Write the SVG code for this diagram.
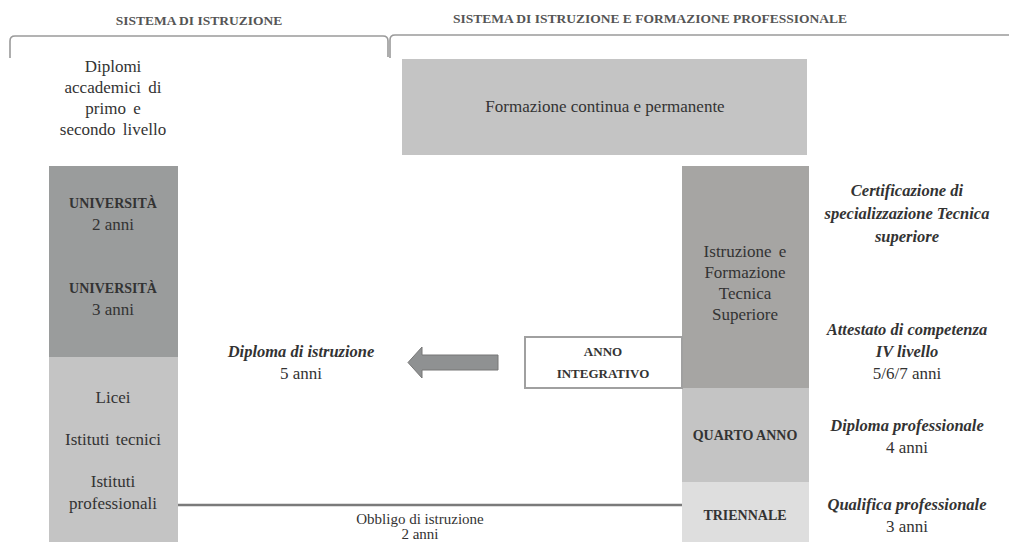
<svg xmlns="http://www.w3.org/2000/svg" width="1009" height="542" viewBox="0 0 1009 542" font-family="'Liberation Serif', 'DejaVu Serif', serif">
<style>
text{font-family:'Liberation Serif','DejaVu Serif',serif;fill:#333;}
.hdr{font-size:13.5px;font-weight:bold;fill:#555;text-anchor:middle;}
.reg{font-size:17px;text-anchor:middle;}
.bld{font-size:14px;font-weight:bold;text-anchor:middle;}
.bi{font-size:16.5px;font-weight:bold;font-style:italic;text-anchor:middle;}
.br{fill:none;stroke:#9a9a9a;stroke-width:1.6;}
</style>
<rect width="1009" height="542" fill="#fff"/>
<g id="headers">
<text class="hdr" x="199" y="25">SISTEMA DI ISTRUZIONE</text>
<text class="hdr" x="650" y="23">SISTEMA DI ISTRUZIONE E FORMAZIONE PROFESSIONALE</text>
<path class="br" d="M10,58 V41 Q10,36 15,36 H383 Q388,36 388,41 V57"/>
<path class="br" d="M390,58 V40 Q390,35 395,35 H1010"/>
</g>
<g id="diplomi-accademici">
<text class="reg" x="113" y="72">Diplomi</text>
<text class="reg" x="113" y="93" word-spacing="3">accademici di</text>
<text class="reg" x="113" y="114" word-spacing="3">primo e</text>
<text class="reg" x="113" y="135" word-spacing="3">secondo livello</text>
</g>
<g id="formazione-continua">
<rect x="402" y="59" width="405" height="96" fill="#c4c4c4"/>
<text class="reg" x="605" y="112">Formazione continua e permanente</text>
</g>
<g id="universita">
<rect x="49" y="166" width="129" height="191" fill="#9a9c9c"/>
<text class="bld" x="113" y="208">UNIVERSITÀ</text>
<text class="reg" x="113" y="230">2 anni</text>
<text class="bld" x="113" y="293">UNIVERSITÀ</text>
<text class="reg" x="113" y="315">3 anni</text>
</g>
<g id="scuole-secondarie">
<rect x="49" y="357" width="129" height="185" fill="#c4c4c4"/>
<text class="reg" x="113" y="403">Licei</text>
<text class="reg" x="113" y="445" word-spacing="2">Istituti tecnici</text>
<text class="reg" x="113" y="487">Istituti</text>
<text class="reg" x="113" y="509">professionali</text>
</g>
<g id="its">
<rect x="682" y="166" width="127" height="222" fill="#a6a5a3"/>
<text class="reg" x="745" y="257" word-spacing="3">Istruzione e</text>
<text class="reg" x="745" y="278">Formazione</text>
<text class="reg" x="745" y="299">Tecnica</text>
<text class="reg" x="745" y="320">Superiore</text>
</g>
<g id="quarto-anno">
<rect x="682" y="388" width="127" height="94" fill="#c4c4c4"/>
<text class="bld" x="745" y="440">QUARTO ANNO</text>
</g>
<g id="triennale">
<rect x="682" y="482" width="127" height="60" fill="#dedede"/>
<text class="bld" x="745" y="520">TRIENNALE</text>
</g>
<g id="anno-integrativo">
<rect x="525" y="337" width="157" height="51" fill="#fff" stroke="#a0a0a0" stroke-width="2"/>
<text class="bld" x="603" y="356" style="font-size:13px">ANNO</text>
<text class="bld" x="603" y="378" style="font-size:13px">INTEGRATIVO</text>
</g>
<g id="diploma-istruzione">
<text class="bi" x="301" y="357">Diploma di istruzione</text>
<text class="reg" x="301" y="379">5 anni</text>
</g>
<g id="qualifiche">
<text class="bi" x="907" y="196">Certificazione di</text>
<text class="bi" x="907" y="219">specializzazione Tecnica</text>
<text class="bi" x="907" y="242">superiore</text>
<text class="bi" x="907" y="335">Attestato di competenza</text>
<text class="bi" x="907" y="357">IV livello</text>
<text class="reg" x="907" y="379">5/6/7 anni</text>
<text class="bi" x="907" y="431">Diploma professionale</text>
<text class="reg" x="907" y="453">4 anni</text>
<text class="bi" x="907" y="510">Qualifica professionale</text>
<text class="reg" x="907" y="532">3 anni</text>
</g>
<g id="connectors">
<path d="M498,355 V370 H422 V378 L408,362.5 L422,347 V355 Z" fill="#8f9192" stroke="#777" stroke-width="1"/>
<line x1="178" y1="505" x2="682" y2="505" stroke="#7a7a7a" stroke-width="2.5"/>
<text class="reg" x="420" y="524" style="font-size:15px">Obbligo di istruzione</text>
<text class="reg" x="420" y="539" style="font-size:15px">2 anni</text>
</g>
</svg>
